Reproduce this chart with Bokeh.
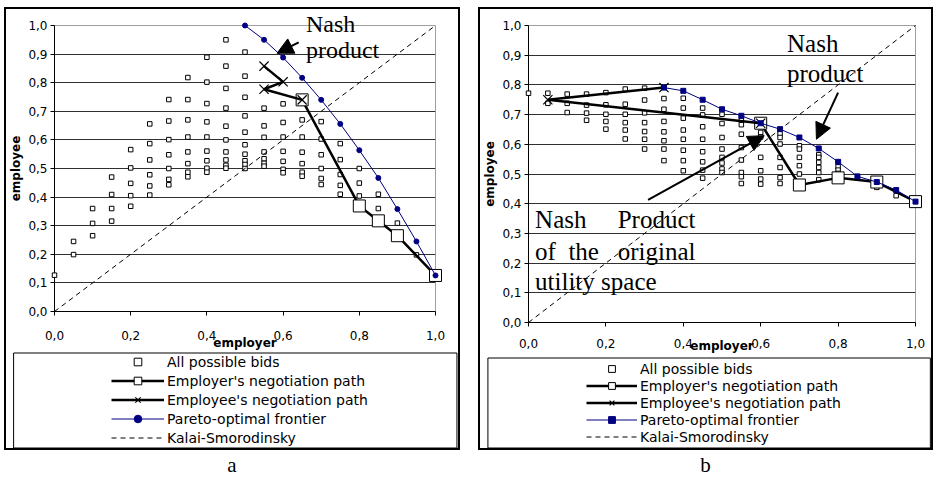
from bokeh.plotting import figure
from bokeh.models import (FixedTicker, Legend, LegendItem, Arrow, NormalHead, Div)
from bokeh.layouts import row, column
from bokeh.embed import file_html
from bokeh.resources import INLINE
from bokeh.core.properties import value

# ---------------- tick values / labels ----------------
y_ticks = [0.0, 0.1, 0.2, 0.3, 0.4, 0.5, 0.6, 0.7, 0.8, 0.9, 1.0]
y_tick_labels = ["0,0", "0,1", "0,2", "0,3", "0,4", "0,5", "0,6", "0,7", "0,8", "0,9", "1,0"]
x_ticks = [0.0, 0.2, 0.4, 0.6, 0.8, 1.0]
x_tick_labels = ["0,0", "0,2", "0,4", "0,6", "0,8", "1,0"]

legend_labels = ["All possible bids", "Employer's negotiation path",
                 "Employee's negotiation path", "Pareto-optimal frontier",
                 "Kalai-Smorodinsky"]

# ---------------- panel a ----------------
a_bid_x = ([0.0] + [0.05] * 2 + [0.10] * 3 + [0.15] * 4 + [0.20] * 5 + [0.25] * 6
           + [0.30] * 7 + [0.35] * 8 + [0.40] * 9 + [0.45] * 10 + [0.50] * 10
           + [0.55] * 7 + [0.60] * 7 + [0.65] * 6 + [0.70] * 6 + [0.75] * 5
           + [0.80] * 3 + [0.85] * 2 + [0.90] + [0.95])
a_bid_y = ([0.127,
            0.245, 0.199,
            0.36, 0.308, 0.265,
            0.47, 0.409, 0.36, 0.316,
            0.566, 0.502, 0.448, 0.405, 0.368,
            0.656, 0.587, 0.53, 0.478, 0.439, 0.407,
            0.741, 0.666, 0.601, 0.548, 0.5, 0.462, 0.443,
            0.818, 0.741, 0.67, 0.61, 0.558, 0.517, 0.487, 0.471,
            0.889, 0.802, 0.727, 0.663, 0.61, 0.561, 0.527, 0.501, 0.487,
            0.95, 0.858, 0.78, 0.711, 0.648, 0.60, 0.558, 0.53, 0.511, 0.501,
            0.907, 0.823, 0.749, 0.684, 0.627, 0.583, 0.55, 0.527, 0.514, 0.5,
            0.711, 0.649, 0.609, 0.558, 0.534, 0.518, 0.508,
            0.726, 0.661, 0.61, 0.56, 0.525, 0.497, 0.485,
            0.67, 0.61, 0.557, 0.517, 0.487, 0.473,
            0.664, 0.603, 0.548, 0.5, 0.465, 0.444,
            0.587, 0.531, 0.479, 0.441, 0.41,
            0.5, 0.449, 0.404,
            0.41, 0.36,
            0.309,
            0.198])
a_employer_x = [1.0, 0.9, 0.85, 0.8, 0.65]
a_employer_y = [0.126, 0.265, 0.317, 0.369, 0.74]
a_employee_x = [0.55, 0.6, 0.55, 0.65]
a_employee_y = [0.858, 0.803, 0.777, 0.74]
a_pareto_x = [0.5, 0.55, 0.6, 0.65, 0.7, 0.75, 0.8, 0.85, 0.9, 0.95, 1.0]
a_pareto_y = [1.0, 0.95, 0.888, 0.817, 0.74, 0.656, 0.564, 0.467, 0.358, 0.245, 0.126]

# ---------------- panel b ----------------
b_bid_x = ([0.0] + [0.05] * 2 + [0.10] * 3 + [0.15] * 4 + [0.20] * 5 + [0.25] * 6
           + [0.30] * 7 + [0.35] * 7 + [0.40] * 8 + [0.45] * 8 + [0.50] * 8
           + [0.55] * 8 + [0.60] * 6 + [0.65] * 7 + [0.70] * 5 + [0.75] * 6
           + [0.80] * 3 + [0.90] + [0.95])
b_bid_y = ([0.772,
            0.772, 0.738,
            0.769, 0.738, 0.707,
            0.769, 0.732, 0.705, 0.681,
            0.774, 0.733, 0.701, 0.677, 0.651,
            0.786, 0.735, 0.701, 0.673, 0.648, 0.618,
            0.789, 0.749, 0.706, 0.673, 0.643, 0.617, 0.584,
            0.754, 0.718, 0.677, 0.642, 0.612, 0.584, 0.545,
            0.755, 0.722, 0.688, 0.648, 0.617, 0.58, 0.545, 0.511,
            0.722, 0.699, 0.659, 0.617, 0.575, 0.541, 0.513, 0.486,
            0.701, 0.67, 0.623, 0.584, 0.556, 0.537, 0.517, 0.505,
            0.681, 0.666, 0.634, 0.589, 0.547, 0.505, 0.491, 0.468,
            0.64, 0.625, 0.556, 0.511, 0.483, 0.466,
            0.636, 0.623, 0.601, 0.556, 0.522, 0.488, 0.468,
            0.595, 0.584, 0.556, 0.528, 0.5,
            0.565, 0.556, 0.539, 0.522, 0.505, 0.481,
            0.524, 0.513, 0.502,
            0.455,
            0.427])
b_employer_x = [1.0, 0.9, 0.8, 0.7, 0.6]
b_employer_y = [0.407, 0.473, 0.487, 0.463, 0.671]
b_employee_x = [0.35, 0.05, 0.6]
b_employee_y = [0.791, 0.75, 0.671]
b_pareto_x = [0.35, 0.4, 0.45, 0.5, 0.55, 0.6, 0.65, 0.7, 0.75, 0.8, 0.85, 0.9, 0.95, 1.0]
b_pareto_y = [0.791, 0.78, 0.75, 0.718, 0.696, 0.671, 0.651, 0.623, 0.586, 0.541,
              0.492, 0.473, 0.446, 0.407]

ks_x = [0.0, 1.0]
ks_y = [0.0, 1.0]

SANS = "DejaVu Sans"
SERIF = "Liberation Serif"
NAVY = "#000080"


def add_series(p, bid_x, bid_y, er_x, er_y, ee_x, ee_y, pa_x, pa_y, marker,
               visible=True):
    lvl = "annotation"   # not clipped at the plot-area edge, like the original
    kw = dict(level=lvl, visible=visible)
    r_bid = p.scatter(bid_x, bid_y, marker="square", size=4.5, fill_color="white",
                      line_color="black", line_width=1, **kw)
    r_erl = p.line(er_x, er_y, line_color="black", line_width=2.5, **kw)
    r_erm = p.scatter(er_x, er_y, marker="square", size=12, fill_color="white",
                      line_color="black", line_width=1, **kw)
    r_eel = p.line(ee_x, ee_y, line_color="black", line_width=2.5, **kw)
    r_eem = p.scatter(ee_x, ee_y, marker="x", size=13, line_color="black",
                      line_width=1.2, **kw)
    r_pal = p.line(pa_x, pa_y, line_color=NAVY, line_width=1, **kw)
    r_pam = p.scatter(pa_x, pa_y, marker=marker, size=5, fill_color=NAVY,
                      line_color=NAVY, **kw)
    r_ks = p.line(ks_x, ks_y, line_color="black", line_width=1, line_dash="5 4",
                  **kw)
    return [[r_bid], [r_erl, r_erm], [r_eel, r_eem], [r_pal, r_pam], [r_ks]]


def chart(width, height, bl, br, bt, bb, series, x_label_standoff, x_title_standoff):
    p = figure(width=width, height=height, x_range=(0, 1), y_range=(0, 1),
               toolbar_location=None, output_backend="svg",
               min_border_left=bl, min_border_right=br, min_border_top=bt,
               min_border_bottom=bb, background_fill_color="white",
               border_fill_color="white")
    p.outline_line_color = "#a0a0a0"
    p.outline_line_width = 1
    p.xgrid.visible = False
    p.ygrid.ticker = FixedTicker(ticks=y_ticks)
    p.ygrid.grid_line_color = "#303030"
    p.ygrid.grid_line_width = 1

    p.xaxis.ticker = FixedTicker(ticks=x_ticks)
    p.yaxis.ticker = FixedTicker(ticks=y_ticks)
    p.xaxis.major_label_overrides = dict(zip(x_ticks, x_tick_labels))
    p.yaxis.major_label_overrides = dict(zip(y_ticks, y_tick_labels))
    for ax in (p.xaxis[0], p.yaxis[0]):
        ax.axis_line_color = "black"
        ax.major_tick_line_color = "black"
        ax.major_tick_in = 0
        ax.major_tick_out = 4
        ax.minor_tick_line_color = None
        ax.major_label_text_font = SANS
        ax.major_label_text_font_size = "12px"
        ax.major_label_text_color = "black"
        ax.axis_label_text_font = SANS
        ax.axis_label_text_font_size = "12px"
        ax.axis_label_text_font_style = "bold"
        ax.axis_label_text_color = "black"
    p.xaxis.axis_label = "employer"
    p.yaxis.axis_label = "employee"
    p.xaxis.major_label_standoff = x_label_standoff
    p.xaxis.axis_label_standoff = x_title_standoff
    p.yaxis.major_label_standoff = 3
    p.yaxis.axis_label_standoff = 2
    add_series(p, *series)
    return p


def legend_fig(width, height, bl, br, series, box_px, loc, row_h, glyph_w):
    lf = figure(width=width, height=height, x_range=(0, 1), y_range=(0, 1),
                x_axis_type=None, y_axis_type=None, toolbar_location=None,
                output_backend="svg", min_border_left=bl, min_border_right=br,
                min_border_top=0, min_border_bottom=0,
                background_fill_color="white", border_fill_color="white")
    lf.outline_line_color = None
    groups = add_series(lf, *series, visible=False)
    fw = width - bl - br
    l_px, r_px, t_px, b_px = box_px
    lf.quad(left=[(l_px - bl) / fw], right=[(r_px - bl) / fw],
            top=[(height - t_px) / height], bottom=[(height - b_px) / height],
            fill_alpha=0, line_color="black", line_width=1, level="annotation")
    items = [LegendItem(label=lab, renderers=rs)
             for lab, rs in zip(legend_labels, groups)]
    lg = Legend(items=items, location=loc, padding=0, margin=0, spacing=0,
                border_line_alpha=0, background_fill_alpha=0,
                glyph_width=glyph_w, glyph_height=row_h, label_height=row_h,
                label_standoff=3, label_text_font=SANS,
                label_text_font_size="14px", label_text_color="black")
    lf.add_layout(lg)
    return lf


def notes(p, xs, ys, texts, size="25px"):
    p.text(x=xs, y=ys, text=texts, text_font=value(SERIF),
           text_font_size=value(size), text_color="black",
           text_baseline="alphabetic", level="annotation")


def arrow(p, x0, y0, x1, y1):
    p.add_layout(Arrow(x_start=x0, y_start=y0, x_end=x1, y_end=y1,
                       line_color="black", line_width=2, level="overlay",
                       end=NormalHead(size=16, fill_color="black",
                                      line_color="black")))


series_a = (a_bid_x, a_bid_y, a_employer_x, a_employer_y, a_employee_x,
            a_employee_y, a_pareto_x, a_pareto_y, "circle")
series_b = (b_bid_x, b_bid_y, b_employer_x, b_employer_y, b_employee_x,
            b_employee_y, b_pareto_x, b_pareto_y, "square")

# ---- panel a ----  canvas 452 wide, frame 382 x 288
pa = chart(452, 343, 47, 23, 16, 39, series_a, 15, -7)
notes(pa, [0.66, 0.66], [1.006, 0.913], ["Nash", "product"], size="24px")
arrow(pa, 0.641, 0.941, 0.584, 0.903)
la = legend_fig(452, 96, 47, 23, series_a, (6, 450.5, 0.5, 95.5), (57, 1), 19, 53)

# ---- panel b ----  canvas 451 wide, frame 391 x 297
pb = chart(451, 348, 44, 16, 16, 35, series_b, 12, -12)
notes(pb, [0.668, 0.668], [0.94, 0.84], ["Nash", "product"])
arrow(pb, 0.80, 0.774, 0.744, 0.617)
notes(pb, [0.017, 0.017, 0.017], [0.346, 0.238, 0.138],
      ["Nash\u00a0\u00a0\u00a0\u00a0\u00a0Product",
       "of\u00a0\u00a0the\u00a0\u00a0\u00a0original",
       "utility space"])
arrow(pb, 0.309, 0.413, 0.609, 0.629)
lb = legend_fig(451, 91, 44, 16, series_b, (3, 450, 0.5, 90.5), (58, 3), 17, 51)

frame_style = {"border": "2px solid black", "background-color": "white"}
cap_style = {"text-align": "center", "font-family": SERIF, "font-size": "21px",
             "color": "black"}

panel_a = column(column(pa, la, styles=frame_style),
                 Div(text="a", width=456, height=28, margin=0, styles=cap_style))
panel_b = column(column(pb, lb, styles=frame_style),
                 Div(text="b", width=455, height=28, margin=0, styles=cap_style))
layout = row(panel_a, panel_b, spacing=18,
             styles={"margin-left": "4px", "margin-top": "7px"})

open("out.html", "w").write(file_html(layout, INLINE))
